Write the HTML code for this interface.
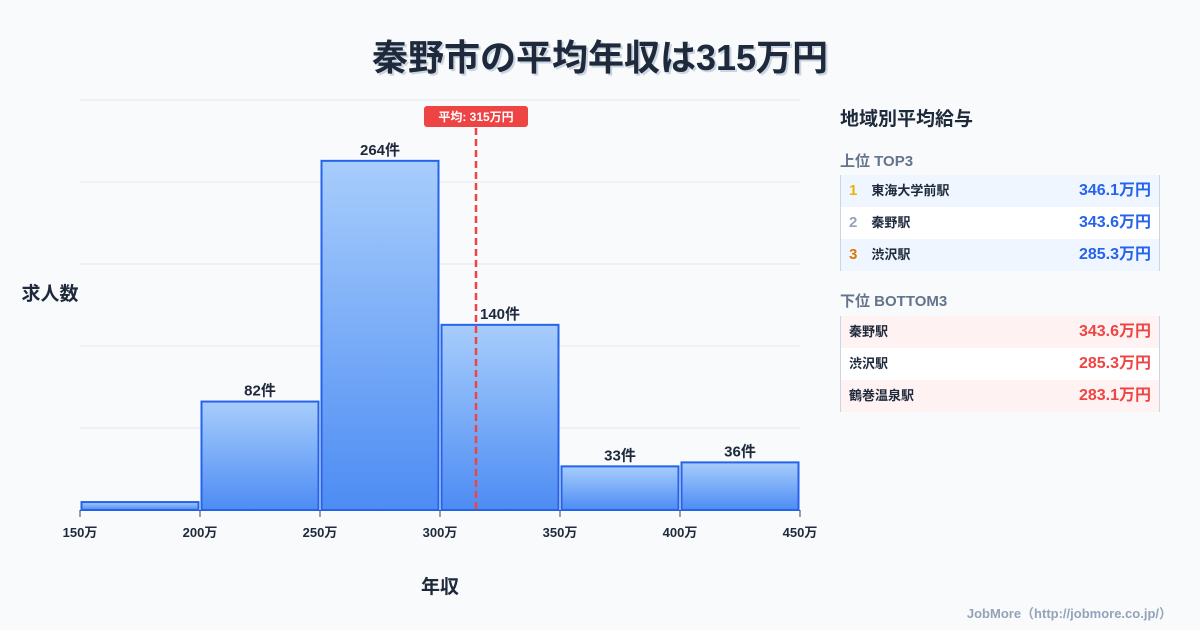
<!DOCTYPE html>
<html><head><meta charset="utf-8"><style>
body{margin:0;width:1200px;height:630px;background:#f8fafc;font-family:"Liberation Sans","Noto Sans CJK JP",sans-serif;overflow:hidden;position:relative;color:#1e293b}
.abs{position:absolute}
.title{left:0;width:1200px;top:29px;text-align:center;font-size:36px;font-weight:bold;color:#1e293b;text-shadow:2px 2px 0 #cbd5e1}
.row{position:absolute;left:840px;width:320px;height:32px;font-size:13px;font-weight:bold;line-height:32px;border-left:1px solid #cbd5e1;border-right:1px solid #cbd5e1;box-sizing:border-box}
.row .v{position:absolute;right:8px;top:0;font-size:16px}
</style></head><body>
<div class="abs title">秦野市の平均年収は315万円</div>
<svg class="abs" style="left:0;top:0" width="820" height="630">
<defs><linearGradient id="g" x1="0" y1="0" x2="0" y2="1"><stop offset="0" stop-color="#a7cdfb"/><stop offset="1" stop-color="#4d8cf4"/></linearGradient></defs>
<g id="grid"></g><g id="bars"></g><g id="axis"></g><g id="mean"></g>
<text x="50" y="300" font-size="19" font-weight="bold" text-anchor="middle" fill="#1e293b">求人数</text>
<text x="440" y="593" font-size="19" font-weight="bold" text-anchor="middle" fill="#1e293b">年収</text>
</svg>
<div class="abs" style="left:840px;top:104px;font-size:19px;font-weight:bold">地域別平均給与</div>
<div class="abs" style="left:840px;top:150px;font-size:15px;font-weight:bold;color:#64748b">上位 TOP3</div>
<div class="row" style="top:175px;background:#eff6ff"><span style="color:#eab308;margin-left:8px;font-size:15px">1</span><span style="margin-left:14px">東海大学前駅</span><span class="v" style="color:#2563eb">346.1万円</span></div>
<div class="row" style="top:207px;background:#fff"><span style="color:#94a3b8;margin-left:8px;font-size:15px">2</span><span style="margin-left:14px">秦野駅</span><span class="v" style="color:#2563eb">343.6万円</span></div>
<div class="row" style="top:239px;background:#eff6ff"><span style="color:#d97706;margin-left:8px;font-size:15px">3</span><span style="margin-left:14px">渋沢駅</span><span class="v" style="color:#2563eb">285.3万円</span></div>
<div class="abs" style="left:840px;top:290px;font-size:15px;font-weight:bold;color:#64748b">下位 BOTTOM3</div>
<div class="row" style="top:316px;background:#fef2f2"><span style="margin-left:8px">秦野駅</span><span class="v" style="color:#ef4444">343.6万円</span></div>
<div class="row" style="top:348px;background:#fff"><span style="margin-left:8px">渋沢駅</span><span class="v" style="color:#ef4444">285.3万円</span></div>
<div class="row" style="top:380px;background:#fef2f2"><span style="margin-left:8px">鶴巻温泉駅</span><span class="v" style="color:#ef4444">283.1万円</span></div>
<div class="abs" style="right:28px;top:603px;font-size:13px;font-weight:bold;color:#94a3b8">JobMore（http://jobmore.co.jp/）</div>
<script>
const binStarts=[150,200,250,300,350,400];
const counts=[6,82,264,140,33,36];
const countLabels=["","82件","264件","140件","33件","36件"];
const xTicks=[150,200,250,300,350,400,450];
const meanValue=315;
const NS="http://www.w3.org/2000/svg";
const X=v=>80+(v-150)*2.4, Y=v=>510-v*410/310;
function mk(t,a,p){const e=document.createElementNS(NS,t);for(const k in a)e.setAttribute(k,a[k]);p.appendChild(e);return e;}
const grid=document.getElementById('grid'),bars=document.getElementById('bars'),axis=document.getElementById('axis'),mean=document.getElementById('mean');
for(let i=0;i<=5;i++){const y=Y(i*62);const l=mk('line',{x1:80,x2:800,y1:y,y2:y,stroke:'#e2e8f0','stroke-width':1},grid);

}
binStarts.forEach((b,i)=>{const x0=X(b)+1.5,x1=X(b+50)-1.5,y=Y(counts[i]);
const r=mk('rect',{x:x0,y:y,width:x1-x0,height:510-y,fill:'url(#g)',stroke:'#2563eb','stroke-width':2},bars);


if(countLabels[i]){const t=mk('text',{x:(x0+x1)/2,y:y-6,'text-anchor':'middle','font-size':15,'font-weight':'bold',fill:'#1e293b'},bars);t.textContent=countLabels[i];

}});
xTicks.forEach(v=>{const x=X(v);mk('line',{x1:x,x2:x,y1:510,y2:517,stroke:'#334155','stroke-width':1},axis);
const t=mk('text',{x:x,y:537,'text-anchor':'middle','font-size':13,'font-weight':'bold',fill:'#1e293b'},axis);t.textContent=v+'万';

});
const mx=X(meanValue);
const ml=mk('line',{x1:mx,x2:mx,y1:128,y2:510,stroke:'#ef4444','stroke-width':2.5,'stroke-dasharray':'7,4'},mean);


const mr=mk('rect',{x:mx-52,y:106,width:104,height:21,rx:3,fill:'#ef4444'},mean);


const mt=mk('text',{x:mx,y:121,'text-anchor':'middle','font-size':12,'font-weight':'bold',fill:'#fff'},mean);mt.textContent='平均: '+meanValue+'万円';


</script>
</body></html>
